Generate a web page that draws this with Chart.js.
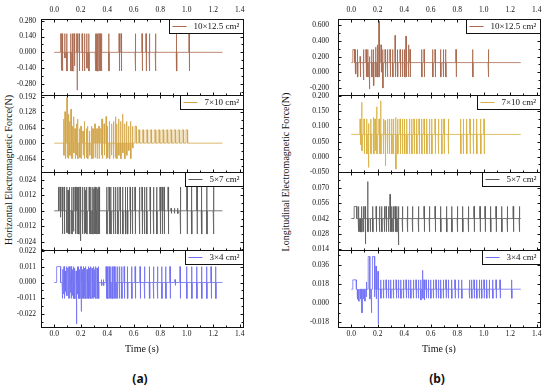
<!DOCTYPE html>
<html>
<head>
<meta charset="utf-8">
<script src="https://cdn.jsdelivr.net/npm/chart.js@4/dist/chart.umd.min.js"></script>
<style>
  body { margin: 0; background: #fff; }
  #wrap { position: relative; width: 550px; height: 389px; overflow: hidden; background: #fff; }
  #wrap canvas { position: absolute; }
  .ytitle { position: absolute; white-space: nowrap; font: 10px "Liberation Serif", "Times New Roman", serif; color: #111;
            transform: translate(-50%, -50%) rotate(-90deg); }
  .tag { position: absolute; transform: translate(-50%, -50%); font: bold 12px "Noto Sans", "Liberation Sans", sans-serif; color: #111; }
</style>
</head>
<body>
<div id="wrap">
  <div class="ytitle" style="left:8px; top:170px">Horizontal Electromagnetic Force(N)</div>
  <div class="ytitle" style="left:285px; top:172px">Longitudinal Electromagnetic Force(N)</div>
  <div class="tag" style="left:140px; top:378px">(a)</div>
  <div class="tag" style="left:437px; top:378px">(b)</div>
</div>
<script>
// time axis, shared by all panels
const xTicks = [0, 0.2, 0.4, 0.6, 0.8, 1.0, 1.2, 1.4];
const areas = ['10×12.5 cm²', '7×10 cm²', '5×7 cm²', '3×4 cm²'];

// pulses: [time, high, low, hold?]
// (a) horizontal force
const hor10 = [
  [0.048, 0.165, -0.16], [0.058, 0.165, -0.165], [0.078, 0.165, -0.05], [0.093, 0.165, -0.165],
  [0.123, 0.165, -0.165], [0.136, 0.165, -0.165], [0.149, 0.165, -0.12], [0.169, 0.165, -0.335],
  [0.186, 0.165, -0.165], [0.209, 0.165, -0.165], [0.226, 0.165, -0.165], [0.244, 0.165, -0.14],
  [0.259, 0.165, -0.165], [0.309, 0.165, -0.165], [0.318, 0.165, -0.165], [0.327, 0.165, -0.165],
  [0.336, 0.165, -0.165], [0.345, 0.165, -0.165], [0.354, 0.165, -0.165], [0.41, 0.165, -0.165],
  [0.488, 0.165, -0.165], [0.503, 0.165, -0.165], [0.61, 0.165, -0.165], [0.661, 0.165, -0.165],
  [0.691, 0.165, -0.165], [0.716, 0.165, -0.165], [0.762, 0.165, -0.165], [0.921, 0.165, -0.165],
  [1.016, 0.165, -0.165]
];
const hor7 = [
  [0.07, 0.10, -0.05], [0.08, 0.13, -0.064], [0.094, 0.188, -0.06], [0.105, 0.12, -0.064],
  [0.115, 0.09, -0.05], [0.125, 0.14, -0.064], [0.135, 0.07, -0.064], [0.145, 0.11, -0.04],
  [0.155, 0.06, -0.064], [0.165, 0.08, -0.05], [0.175, 0.10, -0.064], [0.19, 0.06, -0.06],
  [0.20, 0.07, -0.064], [0.215, 0.05, -0.05], [0.225, 0.09, -0.064], [0.24, 0.06, -0.06],
  [0.25, 0.07, -0.064], [0.265, 0.05, -0.05], [0.28, 0.07, -0.064], [0.29, 0.06, -0.064],
  [0.305, 0.08, -0.06], [0.32, 0.06, -0.064], [0.335, 0.07, -0.064], [0.35, 0.06, -0.05],
  [0.36, 0.10, -0.064], [0.375, 0.08, -0.05], [0.39, 0.11, -0.064], [0.40, 0.07, -0.06],
  [0.415, 0.09, -0.064], [0.43, 0.08, -0.05], [0.445, 0.09, -0.064], [0.46, 0.11, -0.06],
  [0.47, 0.08, -0.064], [0.485, 0.10, -0.05], [0.50, 0.09, -0.064], [0.515, 0.12, -0.04],
  [0.53, 0.08, -0.064], [0.545, 0.09, -0.05], [0.56, 0.07, -0.03], [0.575, 0.09, -0.064],
  [0.59, 0.07, -0.02], [0.61, 0.07, 0, 0.008], [0.635, 0.055, 0, 0.01], [0.665, 0.055, 0, 0.01],
  [0.695, 0.055, 0, 0.01], [0.725, 0.055, 0, 0.01], [0.755, 0.055, 0, 0.01], [0.785, 0.055, 0, 0.01],
  [0.815, 0.055, 0, 0.01], [0.845, 0.055, 0, 0.01], [0.875, 0.055, 0, 0.01], [0.905, 0.055, 0, 0.01],
  [0.935, 0.055, 0, 0.01], [0.965, 0.055, 0, 0.01], [0.995, 0.055, 0, 0.01]
];
const hor5 = [
  [0.030, 0.0185, 0], [0.043, 0.0185, -0.005], [0.058, 0.0185, -0.018], [0.073, 0.0185, -0.018],
  [0.093, 0.0185, -0.017], [0.103, 0.016, -0.018], [0.113, 0.0185, -0.018], [0.131, 0.0185, -0.018],
  [0.143, 0.0185, -0.016], [0.156, 0.0185, -0.018], [0.169, 0.0185, -0.018], [0.181, 0.0185, -0.018],
  [0.194, 0.0185, -0.0234], [0.211, 0.0185, -0.018], [0.226, 0.0185, -0.018], [0.235, 0.016, -0.017],
  [0.244, 0.0185, -0.018], [0.262, 0.0185, -0.018], [0.274, 0.0185, -0.018], [0.289, 0.0185, -0.018],
  [0.298, 0.017, -0.018], [0.307, 0.0185, -0.018], [0.319, 0.0185, -0.018], [0.328, 0.017, -0.018],
  [0.337, 0.0185, -0.018], [0.395, 0.0185, -0.018], [0.412, 0.0185, -0.018], [0.425, 0.0185, -0.018],
  [0.445, 0.0185, -0.018], [0.46, 0.0185, -0.018], [0.478, 0.0185, -0.018], [0.495, 0.0185, -0.018],
  [0.515, 0.0185, -0.018], [0.536, 0.0185, -0.018], [0.551, 0.0185, -0.018], [0.571, 0.0185, -0.018],
  [0.588, 0.0185, -0.018], [0.608, 0.0185, -0.018], [0.641, 0.0185, -0.018], [0.661, 0.0185, -0.018],
  [0.679, 0.0185, -0.018], [0.696, 0.0185, -0.018], [0.722, 0.0185, -0.018], [0.747, 0.0185, -0.018],
  [0.772, 0.0185, -0.018], [0.797, 0.0185, -0.018], [0.812, 0.0185, -0.018], [0.827, 0.0185, -0.018],
  [0.858, 0.0185, -0.018], [0.88, 0.002, -0.002], [0.905, 0.002, -0.002], [0.93, 0.002, -0.002],
  [0.95, 0.0185, -0.018], [1.0, 0.0185, -0.018], [1.035, 0.0185, -0.018], [1.075, 0.0185, -0.018],
  [1.11, 0.0185, -0.018], [1.15, 0.0185, -0.018], [1.2, 0.0185, -0.018]
];
const hor3 = [
  [0.018, 0.011, 0, 0.03], [0.056, 0, -0.011], [0.065, 0.009, -0.008], [0.073, 0.011, -0.011],
  [0.083, 0.008, -0.006], [0.093, 0.011, -0.009], [0.102, 0.01, -0.011], [0.111, 0.011, -0.011],
  [0.118, 0.007, -0.007], [0.126, 0.011, -0.011], [0.135, 0.009, -0.009], [0.144, 0.011, -0.011],
  [0.153, 0.01, -0.011], [0.164, 0.008, -0.0286], [0.172, 0.011, -0.008], [0.181, 0.011, -0.011],
  [0.19, 0.009, -0.011], [0.2, 0.011, -0.02], [0.21, 0.009, -0.011], [0.219, 0.011, -0.011],
  [0.228, 0.01, -0.009], [0.236, 0.011, -0.011], [0.246, 0.009, -0.011], [0.257, 0.011, -0.011],
  [0.265, 0.01, -0.009], [0.274, 0.011, -0.011], [0.284, 0.01, -0.011], [0.294, 0.011, -0.011],
  [0.303, 0.009, -0.01], [0.312, 0.011, -0.011], [0.322, 0.01, -0.011], [0.332, 0.011, -0.011],
  [0.355, 0.002, -0.002], [0.37, 0.002, -0.002], [0.39, 0.011, -0.011], [0.4, 0.011, -0.011],
  [0.413, 0.011, -0.011], [0.425, 0.011, -0.011], [0.438, 0.011, -0.011], [0.45, 0.011, -0.011],
  [0.463, 0.011, -0.011], [0.475, 0.011, -0.011], [0.49, 0.011, -0.011], [0.508, 0.011, -0.011],
  [0.526, 0.011, -0.011], [0.551, 0.011, -0.011], [0.583, 0.011, -0.011], [0.609, 0.011, -0.011],
  [0.646, 0.011, -0.011], [0.679, 0.011, -0.011], [0.717, 0.011, -0.011], [0.747, 0.011, -0.011],
  [0.777, 0.011, -0.011], [0.81, 0.011, -0.011], [0.84, 0.011, -0.011], [0.872, 0.011, -0.011],
  [0.91, 0.002, -0.002], [0.948, 0.011, -0.011], [0.998, 0.011, -0.011], [1.036, 0.011, -0.011],
  [1.074, 0.011, -0.011], [1.111, 0.011, -0.011], [1.149, 0.011, -0.011], [1.182, 0.011, -0.011],
  [1.217, 0.011, -0.011]
];
// (b) longitudinal force
const lon10 = [
  [0.012, 0.29, 0.123, 0.012], [0.03, 0.29, -0.02], [0.045, 0.29, -0.06], [0.065, 0.2, -0.06],
  [0.09, 0.29, -0.1], [0.11, 0.29, -0.06], [0.123, 0.29, -0.06], [0.135, 0.2, -0.215],
  [0.153, 0.29, -0.06], [0.166, 0.29, -0.17], [0.183, 0.32, -0.06], [0.196, 0.35, -0.06],
  [0.208, 0.65, -0.06], [0.223, 0.35, 0.0], [0.236, 0.29, -0.2], [0.254, 0.29, -0.06],
  [0.271, 0.29, -0.06], [0.291, 0.29, -0.06], [0.311, 0.29, -0.06], [0.329, 0.47, -0.06],
  [0.347, 0.29, -0.06], [0.367, 0.29, -0.06], [0.384, 0.29, -0.06], [0.4, 0.29, -0.06],
  [0.412, 0.46, -0.06], [0.43, 0.35, -0.06], [0.442, 0.29, -0.06], [0.53, 0.29, -0.06],
  [0.548, 0.29, -0.06], [0.613, 0.29, -0.06], [0.631, 0.29, -0.06], [0.673, 0.29, -0.06],
  [0.693, 0.29, -0.06], [0.711, 0.29, -0.06], [0.789, 0.29, -0.06], [0.915, 0.29, -0.06],
  [1.033, 0.29, -0.06]
];
const lon7 = [
  [0.065, 0.125, 0.04], [0.078, 0.18, 0.02], [0.095, 0.125, 0.01], [0.115, 0.125, 0.01],
  [0.128, 0.11, -0.035], [0.146, 0.125, 0.01], [0.166, 0.13, 0.01], [0.178, 0.125, 0.02],
  [0.191, 0.165, 0.01], [0.208, 0.125, 0.01], [0.221, 0.185, 0.01], [0.241, 0.125, 0.01],
  [0.254, 0.12, -0.03], [0.271, 0.125, 0.01], [0.286, 0.125, 0.01], [0.304, 0.125, 0.01],
  [0.316, 0.125, 0.01], [0.334, 0.13, -0.04], [0.349, 0.125, 0.01], [0.367, 0.125, 0.01],
  [0.384, 0.125, 0.01], [0.4, 0.125, 0.01], [0.417, 0.125, 0.01], [0.437, 0.125, 0.01],
  [0.455, 0.125, 0.01], [0.472, 0.125, 0.01], [0.492, 0.125, 0.01], [0.51, 0.125, 0.01],
  [0.53, 0.125, 0.01], [0.548, 0.125, 0.01], [0.568, 0.125, 0.01], [0.588, 0.125, 0.01],
  [0.606, 0.125, 0.01], [0.631, 0.125, 0.01], [0.656, 0.125, 0.01], [0.681, 0.125, 0.01],
  [0.698, 0.125, 0.01], [0.731, 0.125, 0.01], [0.824, 0.125, 0.01], [0.844, 0.125, 0.01],
  [0.869, 0.125, 0.01], [0.894, 0.125, 0.01], [0.92, 0.125, 0.01], [0.945, 0.125, 0.01],
  [0.975, 0.125, 0.01], [1.0, 0.125, 0.01]
];
const lon5 = [
  [0.022, 0.053, 0.042, 0.02], [0.052, 0.053, 0.03], [0.06, 0.042, 0.03], [0.068, 0.042, 0.03],
  [0.078, 0.053, 0.03], [0.09, 0.053, 0.03], [0.103, 0.053, 0.019], [0.123, 0.0756, 0.03],
  [0.14, 0.042, 0.03], [0.16, 0.053, 0.03], [0.186, 0.053, 0.03], [0.211, 0.053, 0.03],
  [0.228, 0.053, 0.03], [0.248, 0.053, 0.03], [0.261, 0.053, 0.03], [0.279, 0.053, 0.03],
  [0.291, 0.064, 0.03], [0.304, 0.053, 0.03], [0.316, 0.053, 0.03], [0.329, 0.053, 0.03],
  [0.342, 0.053, 0.03], [0.354, 0.053, 0.018], [0.384, 0.053, 0.03], [0.422, 0.053, 0.03],
  [0.46, 0.053, 0.03], [0.505, 0.053, 0.03], [0.548, 0.053, 0.03], [0.588, 0.053, 0.03],
  [0.631, 0.053, 0.03], [0.673, 0.053, 0.03], [0.718, 0.053, 0.03], [0.757, 0.053, 0.03],
  [0.799, 0.053, 0.03], [0.839, 0.053, 0.03], [0.882, 0.053, 0.03], [0.925, 0.053, 0.03],
  [0.97, 0.053, 0.03], [1.008, 0.053, 0.03], [1.05, 0.053, 0.03], [1.091, 0.053, 0.03],
  [1.134, 0.053, 0.03], [1.176, 0.053, 0.03], [1.221, 0.053, 0.03], [1.267, 0.053, 0.03]
];
const lon3 = [
  [0.012, 0.022, 0.0132, 0.025], [0.045, 0.0132, 0.004], [0.055, 0.0132, 0.002], [0.065, 0.0132, 0.004],
  [0.078, 0.0132, -0.009], [0.09, 0.0132, 0.004], [0.1, 0.0132, 0.002], [0.112, 0.02, 0.006],
  [0.128, 0.044, 0.004, 0.012], [0.15, 0.0132, -0.009], [0.16, 0.044, 0.006, 0.015], [0.185, 0.035, 0.004],
  [0.2, 0.03, -0.0195], [0.221, 0.022, 0.0047], [0.241, 0.022, 0.0047], [0.261, 0.022, 0.0047],
  [0.279, 0.022, 0.0047], [0.296, 0.022, 0.0047], [0.316, 0.022, 0.0047], [0.337, 0.022, 0.0047],
  [0.354, 0.022, 0.0047], [0.372, 0.022, 0.0047], [0.392, 0.022, 0.0047], [0.412, 0.022, 0.0047],
  [0.43, 0.022, 0.0047], [0.447, 0.022, 0.0047], [0.467, 0.022, 0.0047], [0.487, 0.022, 0.0047],
  [0.505, 0.022, 0.0047], [0.523, 0.022, 0.003], [0.537, 0.031, 0.0047], [0.548, 0.022, 0.003],
  [0.563, 0.022, 0.0047], [0.58, 0.022, 0.0047], [0.598, 0.022, 0.0047], [0.618, 0.022, 0.0047],
  [0.638, 0.022, 0.0047], [0.656, 0.022, 0.0047], [0.673, 0.022, 0.0047], [0.693, 0.022, 0.0047],
  [0.713, 0.022, 0.0047], [0.731, 0.022, 0.0047], [0.756, 0.022, 0.0047], [0.781, 0.022, 0.0047],
  [0.807, 0.022, 0.0047], [0.832, 0.022, 0.0047], [0.89, 0.022, 0.0047], [0.907, 0.022, 0.0047],
  [0.925, 0.022, 0.0047], [0.945, 0.022, 0.0047], [0.965, 0.022, 0.0047], [0.982, 0.022, 0.0047],
  [1.0, 0.022, 0.0047], [1.02, 0.022, 0.0047], [1.04, 0.022, 0.0047], [1.066, 0.022, 0.0047],
  [1.091, 0.022, 0.0047], [1.121, 0.022, 0.0047], [1.209, 0.022, 0.0047]
];

// baseline level, end time, y range and y ticks of each panel
const horBase = [0, 0, 0, 0];
const lonBase = [0.123, 0.074, 0.042, 0.0132];
const horEnd = [1.27, 1.27, 1.27, 1.27];
const lonEnd = [1.28, 1.28, 1.28, 1.28];
const horRange = [[-0.378, 0.295], [-0.1195, 0.1995], [-0.0305, 0.0302], [-0.0308, 0.0225]];
const lonRange = [[-0.291, 0.68], [-0.05, 0.204], [0.0134, 0.0843], [-0.0224, 0.0501]];
const horTicks = [[-0.28, -0.14, 0, 0.14, 0.28], [-0.064, 0, 0.064, 0.128, 0.192],
                  [-0.024, -0.012, 0, 0.012, 0.024], [-0.022, -0.011, 0, 0.011, 0.022]];
const lonTicks = [[-0.2, 0, 0.2, 0.4, 0.6], [-0.05, 0, 0.05, 0.1, 0.15, 0.2],
                  [0.014, 0.028, 0.042, 0.056, 0.07], [-0.018, 0, 0.018, 0.036]];
const horColors = ['#a8684e', '#d2a448', '#5a5a5a', '#6f6ff2'];
const lonColors = ['#a8684e', '#d8b040', '#5a5a5a', '#6f6ff2'];

// page layout
const plotTop = [19, 95, 172, 250];
const plotBottom = [95, 172, 250, 327];
const margin = 18; // canvases overlap so tick labels at the panel edges have room
const columns = [
  {left: 0, width: 250, axisW: 41, padR: 7, labelPad: 5},
  {left: 290, width: 260, axisW: 48, padR: 10, labelPad: 9}
];

Chart.defaults.font.family = "'Liberation Serif', 'Times New Roman', serif";
Chart.defaults.font.size = 7.5;
Chart.defaults.color = '#111';

function pulseTrace(base, end, pulses) {
  const w = 0.003;
  const pts = [{x: 0, y: base}];
  pulses.forEach(([t, hi, lo, hold]) => {
    const h = hold || w;
    pts.push({x: t, y: base}, {x: t, y: hi}, {x: t + h, y: hi},
             {x: t + h, y: lo}, {x: t + h + w, y: lo}, {x: t + h + w, y: base});
  });
  pts.push({x: end, y: base});
  return pts;
}

function minors(ticks, min, max) {
  const out = [];
  const step = ticks[1] - ticks[0];
  for (let i = -1; i < ticks.length; i++) {
    const v = (i < 0 ? ticks[0] - step : ticks[i]) + step / 2;
    if (v > min && v < max) out.push(v);
  }
  return out;
}

function framePlugin(p) {
  return {
    id: 'frame',
    afterDatasetsDraw(chart) {
      const {ctx, chartArea: a} = chart;
      const xs = chart.scales.x, ys = chart.scales.y;
      const L = Math.round(a.left) + 0.5, R = Math.round(a.right) + 0.5;
      const T = Math.round(a.top) + 0.5, B = Math.round(a.bottom) + 0.5;
      ctx.save();
      ctx.strokeStyle = '#111';
      ctx.lineWidth = 1;
      const seg = (x1, y1, x2, y2) => { ctx.beginPath(); ctx.moveTo(x1, y1); ctx.lineTo(x2, y2); ctx.stroke(); };
      const xm = minors(xTicks, xs.min, xs.max);
      xTicks.forEach(v => { const px = Math.round(xs.getPixelForValue(v)) + 0.5; seg(px, T, px, T + 3); seg(px, B, px, B - 3); });
      xm.forEach(v => { const px = Math.round(xs.getPixelForValue(v)) + 0.5; seg(px, T, px, T + 2); seg(px, B, px, B - 2); });
      const ym = minors(p.ticks, ys.min, ys.max);
      p.ticks.forEach(v => { const py = Math.round(ys.getPixelForValue(v)) + 0.5; seg(L, py, L + 3, py); seg(R, py, R - 3, py); });
      ym.forEach(v => { const py = Math.round(ys.getPixelForValue(v)) + 0.5; seg(L, py, L + 2, py); seg(R, py, R - 2, py); });

      // legend box
      ctx.font = '9px "Liberation Serif", "Times New Roman", serif';
      const tw = ctx.measureText(p.label).width;
      const bw = Math.round(tw + 28), bh = 14;
      const bx = R - bw, by = T;
      ctx.fillStyle = '#fff';
      ctx.fillRect(bx, by, bw, bh);
      ctx.strokeRect(bx, by, bw, bh);
      ctx.strokeStyle = p.color;
      seg(bx + 3, by + bh / 2, bx + 17, by + bh / 2);
      ctx.fillStyle = '#111';
      ctx.textBaseline = 'middle';
      ctx.fillText(p.label, bx + 24, by + bh / 2 + 0.5);

      ctx.strokeStyle = '#111';
      ctx.strokeRect(L, T, R - L, B - T);
      ctx.restore();
    }
  };
}

function buildPanel(col, row, pulses, base, end, range, ticks, color) {
  const c = columns[col];
  const first = row === 0, last = row === 3;
  const plotH = plotBottom[row] - plotTop[row];
  const top = first ? 0 : plotTop[row] - margin;
  const height = first ? plotBottom[row] + margin : (last ? margin + plotH + 30 : plotH + 2 * margin);
  const canvas = document.createElement('canvas');
  canvas.width = c.width;
  canvas.height = height;
  canvas.style.left = c.left + 'px';
  canvas.style.top = top + 'px';
  document.getElementById('wrap').appendChild(canvas);

  new Chart(canvas, {
    type: 'line',
    data: {
      datasets: [{
        data: pulseTrace(base, end, pulses),
        borderColor: color,
        borderWidth: 0.8,
        pointRadius: 0,
        tension: 0,
        fill: false
      }]
    },
    options: {
      responsive: false,
      animation: false,
      events: [],
      layout: {padding: {left: 0, right: c.padR, top: first ? 0 : margin, bottom: last ? 0 : margin}},
      plugins: {legend: {display: false}, tooltip: {enabled: false}},
      scales: {
        x: {
          type: 'linear',
          min: -0.1,
          max: 1.425,
          display: first || last,
          position: first ? 'top' : 'bottom',
          grid: {display: false, drawTicks: false},
          border: {display: false},
          ticks: {padding: first ? 4 : 3, callback: v => v.toFixed(1)},
          title: {display: last, text: 'Time (s)', font: {size: 10}, padding: {top: 0, bottom: 2}},
          afterBuildTicks: s => { s.ticks = xTicks.map(v => ({value: v})); },
          afterFit: s => { s.height = first ? 19 : (last ? 30 : 0); }
        },
        y: {
          type: 'linear',
          min: range[0],
          max: range[1],
          grid: {display: false, drawTicks: false},
          border: {display: false},
          ticks: {padding: c.labelPad, callback: v => v.toFixed(3)},
          afterBuildTicks: s => { s.ticks = ticks.map(v => ({value: v})); },
          afterFit: s => { s.width = c.axisW; }
        }
      }
    },
    plugins: [framePlugin({ticks: ticks, label: areas[row], color: color})]
  });
}

const horData = [hor10, hor7, hor5, hor3];
const lonData = [lon10, lon7, lon5, lon3];
for (let r = 0; r < 4; r++) {
  buildPanel(0, r, horData[r], horBase[r], horEnd[r], horRange[r], horTicks[r], horColors[r]);
  buildPanel(1, r, lonData[r], lonBase[r], lonEnd[r], lonRange[r], lonTicks[r], lonColors[r]);
}
</script>
</body>
</html>
